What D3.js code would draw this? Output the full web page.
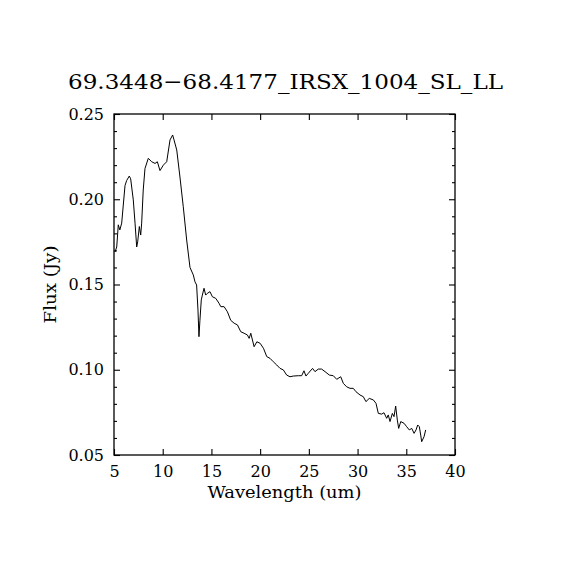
<!DOCTYPE html>
<html>
<head>
<meta charset="utf-8">
<script src="https://cdn.jsdelivr.net/npm/d3@7"></script>
<style>
  body { margin: 0; background: #fff; }
  text { font-family: "DejaVu Serif", "Liberation Serif", serif; fill: #000; }
</style>
</head>
<body>
<div id="chart"></div>
<script>
// spectrum
var wavelength = [5.1, 5.28, 5.44, 5.6, 5.79, 6.13, 6.3, 6.57, 6.71, 6.98, 7.16, 7.33, 7.43, 7.6, 7.74, 7.84,
  8.0, 8.18, 8.52, 8.87, 9.21, 9.45, 9.72, 10.06, 10.41, 10.75, 11.02, 11.16, 11.44, 11.77, 12.11,
  12.46, 12.8, 13.14, 13.31, 13.48, 13.62, 13.72, 13.82, 13.96, 14.07, 14.24, 14.41, 14.58, 14.85,
  15.1, 15.44, 15.78, 15.96, 16.3, 16.64, 16.98, 17.33, 17.67, 18.01, 18.35, 18.69, 18.87, 19.04,
  19.38, 19.66, 20.0, 20.34, 20.68, 21.01, 21.35, 21.7, 22.04, 22.38, 22.72, 23.06, 23.4, 23.92,
  24.26, 24.5, 24.7, 24.94, 25.38, 25.63, 25.97, 26.31, 26.66, 27.1, 27.51, 27.86, 28.27, 28.54,
  28.88, 29.22, 29.56, 29.84, 30.25, 30.59, 30.86, 31.2, 31.62, 31.89, 32.13, 32.48, 32.71, 32.99,
  33.15, 33.33, 33.57, 33.74, 33.91, 34.08, 34.22, 34.43, 34.77, 35.04, 35.31, 35.56, 35.8, 36.0,
  36.17, 36.34, 36.48, 36.58, 36.82, 36.99];
var flux = [0.169, 0.172, 0.185, 0.182, 0.186, 0.208, 0.211, 0.2136, 0.212, 0.1996, 0.186, 0.172, 0.175,
  0.184, 0.179, 0.186, 0.2054, 0.218, 0.224, 0.222, 0.221, 0.222, 0.2168, 0.220, 0.222, 0.2348, 0.2377,
  0.2348, 0.2289, 0.213, 0.1956, 0.1761, 0.160, 0.1556, 0.1516, 0.1497, 0.135, 0.1194, 0.129, 0.141,
  0.1438, 0.1478, 0.1438, 0.1448, 0.1458, 0.1428, 0.1419, 0.139, 0.137, 0.137, 0.134, 0.129, 0.1273,
  0.1263, 0.1223, 0.1214, 0.1204, 0.1184, 0.1214, 0.1135, 0.1164, 0.1155, 0.1126, 0.1077, 0.1067,
  0.1047, 0.1028, 0.1008, 0.0999, 0.0969, 0.0959, 0.0963, 0.0965, 0.0965, 0.0994, 0.0963, 0.0979,
  0.1008, 0.0989, 0.1004, 0.1004, 0.0989, 0.0969, 0.0965, 0.0944, 0.0959, 0.092, 0.0900, 0.0891,
  0.0891, 0.0871, 0.0852, 0.0842, 0.0813, 0.0832, 0.0823, 0.0803, 0.0744, 0.074, 0.0748, 0.0715,
  0.0735, 0.0696, 0.0744, 0.0725, 0.0787, 0.0705, 0.0656, 0.0696, 0.0686, 0.0666, 0.0647, 0.0656,
  0.0627, 0.0647, 0.0676, 0.0666, 0.0617, 0.0578, 0.0607, 0.0647];

var xTicks = [5, 10, 15, 20, 25, 30, 35, 40];
var yTicks = [0.05, 0.10, 0.15, 0.20, 0.25];
var yMinor = [0.06, 0.07, 0.08, 0.09, 0.11, 0.12, 0.13, 0.14, 0.16, 0.17, 0.18, 0.19, 0.21, 0.22, 0.23, 0.24];

var title = "69.3448\u221268.4177_IRSX_1004_SL_LL";

var margin = {top: 114, right: 115, bottom: 115, left: 114},
    width = 570 - margin.left - margin.right,
    height = 570 - margin.top - margin.bottom;

var svg = d3.select("#chart")
  .append("svg")
    .attr("width", 570)
    .attr("height", 570)
  .append("g")
    .attr("transform", "translate(" + margin.left + "," + margin.top + ")");

var x = d3.scaleLinear().domain([5, 40]).range([0, width]);
var y = d3.scaleLinear().domain([0.05, 0.25]).range([height, 0]);

// frame
svg.append("rect")
  .attr("width", width).attr("height", height)
  .attr("fill", "none").attr("stroke", "#000").attr("stroke-width", 1.3);

// ticks point inward on all four sides
function styleAxis(g) {
  g.select(".domain").remove();
  g.selectAll("line").attr("stroke", "#000").attr("stroke-width", 1.1);
  g.selectAll("text").style("font-size", "16px").style("font-family", "DejaVu Serif, serif");
}

svg.append("g")
  .attr("transform", "translate(0," + height + ")")
  .call(d3.axisBottom(x).tickValues(xTicks).tickFormat(d3.format("d")).tickSizeInner(-6).tickPadding(11))
  .call(styleAxis);
svg.append("g")
  .call(d3.axisTop(x).tickValues(xTicks).tickSizeInner(-6).tickFormat(""))
  .call(styleAxis);

svg.append("g")
  .call(d3.axisLeft(y).tickValues(yTicks).tickFormat(d3.format(".2f")).tickSizeInner(-6).tickPadding(10))
  .call(styleAxis);
svg.append("g")
  .call(d3.axisLeft(y).tickValues(yMinor).tickSizeInner(-3).tickFormat(""))
  .call(styleAxis);
svg.append("g")
  .attr("transform", "translate(" + width + ",0)")
  .call(d3.axisRight(y).tickValues(yTicks).tickSizeInner(-6).tickFormat(""))
  .call(styleAxis);
svg.append("g")
  .attr("transform", "translate(" + width + ",0)")
  .call(d3.axisRight(y).tickValues(yMinor).tickSizeInner(-3).tickFormat(""))
  .call(styleAxis);

// labels
svg.append("text")
  .attr("x", width / 2).attr("y", height + 43)
  .attr("text-anchor", "middle")
  .attr("textLength", 154)
  .attr("lengthAdjust", "spacingAndGlyphs")
  .style("font-size", "17px")
  .text("Wavelength (um)");

svg.append("text")
  .attr("transform", "translate(-58," + (height / 2) + ")rotate(-90)")
  .attr("text-anchor", "middle")
  .attr("textLength", 78)
  .attr("lengthAdjust", "spacingAndGlyphs")
  .style("font-size", "17px")
  .text("Flux (Jy)");

svg.append("text")
  .attr("x", (68 + 503) / 2 - margin.left).attr("y", -25)
  .attr("text-anchor", "middle")
  .attr("textLength", 435)
  .attr("lengthAdjust", "spacingAndGlyphs")
  .style("font-size", "21px")
  .text(title);

// the spectrum
var pts = wavelength.map(function(w, i) { return {w: w, f: flux[i]}; });
svg.append("path")
  .datum(pts)
  .attr("fill", "none")
  .attr("stroke", "#000")
  .attr("stroke-width", 1)
  .attr("d", d3.line()
    .x(function(d) { return x(d.w); })
    .y(function(d) { return y(d.f); }));
</script>
</body>
</html>
